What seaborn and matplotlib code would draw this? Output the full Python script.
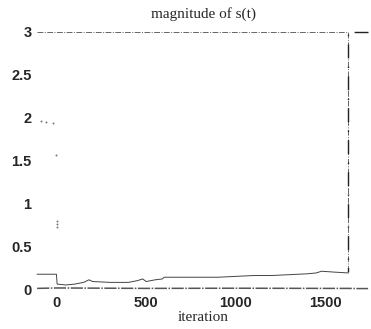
import numpy as np
import pandas as pd
import matplotlib
matplotlib.use("Agg")
import matplotlib.pyplot as plt
import seaborn as sns

# --- data ---
# saturated component (stays at 3 until it drops)
sat_x = [-110, 1630, 1630]
sat_y = [3.0, 3.0, 0.25]
# dash-dot segment at the end
end_x = [1740, 1630, 1630]
end_y = [3.0, 3.0, 0.2]
# transient at the start (sparse dots)
start_x = [-90, -60, -20, -3, 0, 0, 0]
start_y = [1.96, 1.95, 1.94, 1.56, 0.8, 0.76, 0.72]
# middle component
mid_x = [-110, -2, 2, 50, 100, 150, 180, 200, 300, 400, 450, 480, 500, 550,
         590, 600, 700, 800, 900, 1000, 1100, 1200, 1300, 1400, 1450, 1480,
         1550, 1630]
mid_y = [0.175, 0.175, 0.06, 0.05, 0.06, 0.08, 0.11, 0.09, 0.08, 0.08, 0.1,
         0.12, 0.09, 0.11, 0.12, 0.14, 0.14, 0.14, 0.14, 0.15, 0.16, 0.16,
         0.17, 0.18, 0.19, 0.21, 0.2, 0.19]
# small component near zero
low_x = [-110, 0, 500, 1000, 1500, 1630, 1680, 1740]
low_y = [0.01, 0.015, 0.01, 0.012, 0.01, 0.01, 0.008, 0.008]

y_ticks = [0, 0.5, 1, 1.5, 2, 2.5, 3]
y_labels = ["0", "0.5", "1", "1.5", "2", "2.5", "3"]
x_ticks = [0, 500, 1000, 1500]
x_labels = ["0", "500", "1000", "1500"]

sns.set_style("white")
plt.rcParams["font.family"] = ["Liberation Sans", "DejaVu Sans"]

fig = plt.figure(figsize=(3.71, 3.29), dpi=100)
ax = fig.add_axes([0.10, 0.113, 0.897, 0.79])

def df(x, y):
    return pd.DataFrame({"x": x, "y": y})

kw = dict(x="x", y="y", ax=ax, sort=False, estimator=None, legend=False)
sns.lineplot(data=df(sat_x, sat_y), color="#666666", lw=0.7,
             linestyle=(0, (6, 1.5, 1, 1.5)), **kw)
sns.lineplot(data=df(end_x, end_y), color="#222222", lw=1.0,
             linestyle=(0, (10, 6, 1, 6)), **kw)
sns.scatterplot(data=df(start_x, start_y), x="x", y="y", ax=ax, s=2,
                color="#777777", linewidth=0, legend=False)
sns.lineplot(data=df(mid_x, mid_y), color="#444444", lw=0.7, **kw)
sns.lineplot(data=df(low_x, low_y), color="#555555", lw=1.1,
             linestyle=(0, (8, 1, 1, 1)), **kw)
for ln in ax.lines:
    ln.set_clip_on(False)
for c in ax.collections:
    c.set_clip_on(False)

ax.set_xlim(-110, 1750)
ax.set_ylim(-0.03, 3.0)
ax.set_yticks(y_ticks)
ax.set_yticklabels(y_labels)
ax.set_xticks(x_ticks)
ax.set_xticklabels(x_labels)
for s in ax.spines.values():
    s.set_visible(False)
ax.tick_params(axis="y", direction="out", length=3, width=0.6, color="#888888",
               labelsize=10.5, pad=1)
ax.tick_params(axis="x", length=0, labelsize=10.5, pad=3)
for t in ax.get_xticklabels() + ax.get_yticklabels():
    t.set_fontweight("bold")

ax.set_title("magnitude of s(t)", family=["Liberation Serif"], fontsize=11, pad=10)
ax.set_xlabel("iteration", family=["Liberation Serif"], fontsize=11, labelpad=1)
ax.set_ylabel("")

fig.savefig("out.png", dpi=100)
